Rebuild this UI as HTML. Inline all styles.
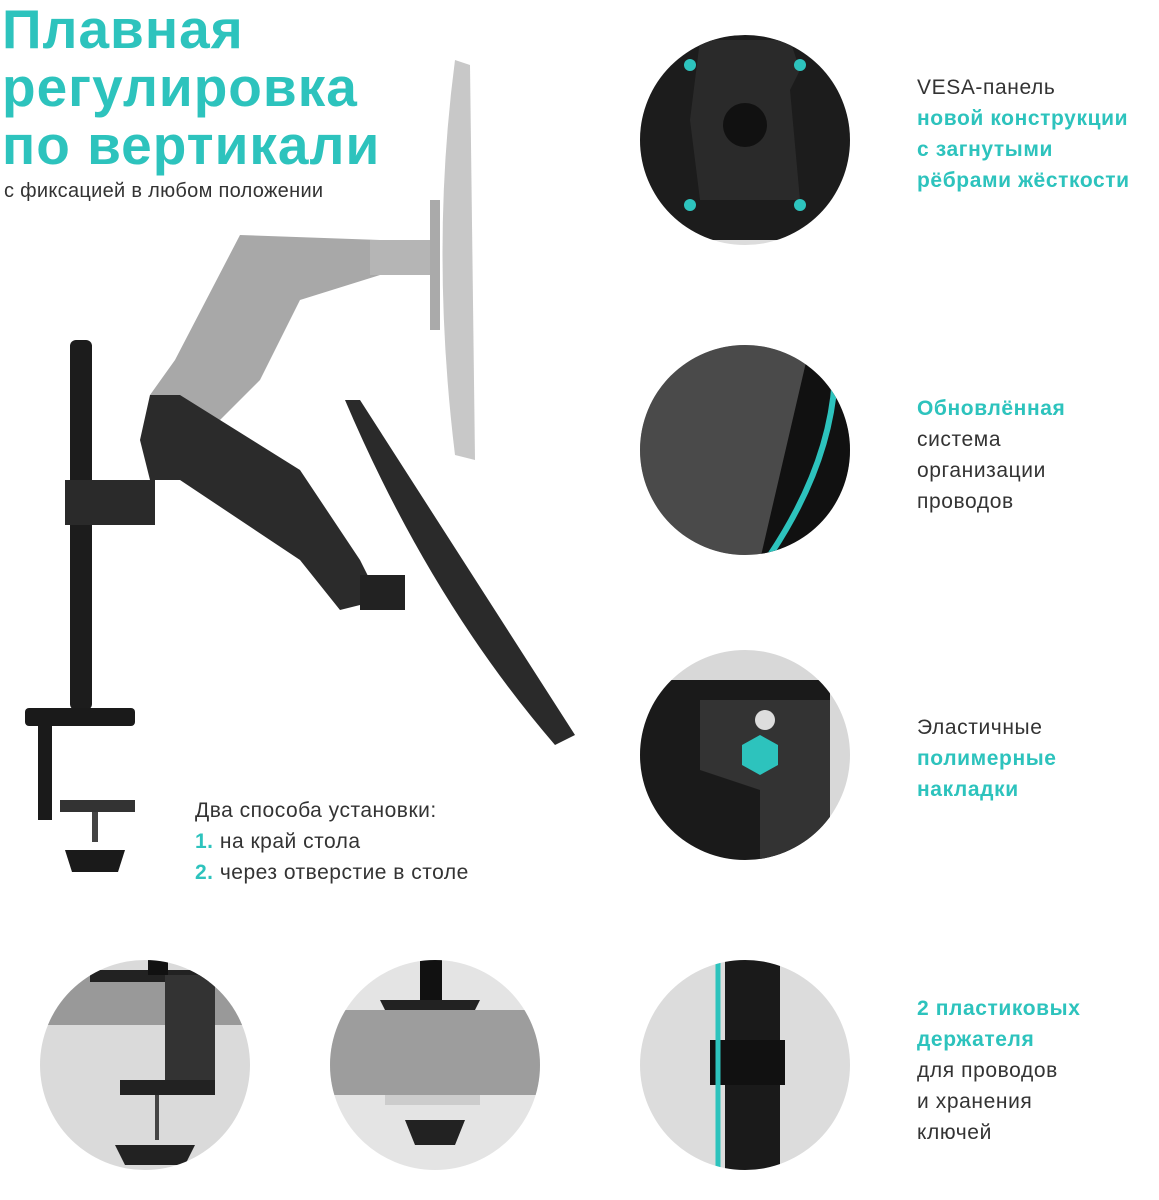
<!DOCTYPE html>
<html><head><meta charset="utf-8"><style>
body{margin:0;width:1159px;height:1200px;background:#fff;position:relative;overflow:hidden;font-family:"Liberation Sans",sans-serif}
.t{position:absolute;left:2px;color:#2dc3bd;font-weight:bold;font-size:55px;line-height:58px;letter-spacing:1px}
.s{position:absolute;left:4px;top:180px;font-size:20px;color:#333;letter-spacing:0.3px}
.r{position:absolute;left:917px;font-size:21px;line-height:31px;color:#333;letter-spacing:0.6px}
.c{color:#2dc3bd;font-weight:bold}
.i{position:absolute;left:195px;top:795px;font-size:21px;line-height:31px;color:#333;letter-spacing:0.5px}
svg{position:absolute;left:0;top:0}
</style></head><body>
<svg width="1159" height="1200">
<defs>
<clipPath id="c1"><circle cx="745" cy="140" r="105"/></clipPath>
<clipPath id="c2"><circle cx="745" cy="450" r="105"/></clipPath>
<clipPath id="c3"><circle cx="745" cy="755" r="105"/></clipPath>
<clipPath id="c4"><circle cx="745" cy="1065" r="105"/></clipPath>
<clipPath id="c5"><circle cx="145" cy="1065" r="105"/></clipPath>
<clipPath id="c6"><circle cx="435" cy="1065" r="105"/></clipPath>
</defs>
<circle cx="745" cy="140" r="105" fill="#dcdcdc"/>
<g clip-path="url(#c1)">
<path d="M640 40 L850 30 L850 240 L640 240Z" fill="#1c1c1c"/>
<path d="M700 40 L790 40 L800 70 L790 90 L800 200 L700 200 L690 120Z" fill="#2a2a2a"/>
<circle cx="745" cy="125" r="22" fill="#111"/>
<circle cx="690" cy="65" r="6" fill="#2dc3bd"/><circle cx="800" cy="65" r="6" fill="#2dc3bd"/>
<circle cx="690" cy="205" r="6" fill="#2dc3bd"/><circle cx="800" cy="205" r="6" fill="#2dc3bd"/>
</g>
<circle cx="745" cy="450" r="105" fill="#9a9a9a"/>
<g clip-path="url(#c2)">
<path d="M640 345 L810 345 L780 560 L640 560Z" fill="#4a4a4a"/>
<path d="M810 345 L860 345 L860 560 L760 560Z" fill="#111"/>
<path d="M835 350 Q840 450 770 555" stroke="#2dc3bd" stroke-width="6" fill="none"/>
</g>
<circle cx="745" cy="755" r="105" fill="#d8d8d8"/>
<g clip-path="url(#c3)">
<path d="M640 680 L830 680 L830 860 L640 860Z" fill="#1a1a1a"/>
<path d="M700 700 L830 700 L830 860 L760 860 L760 790 L700 770Z" fill="#333"/>
<circle cx="765" cy="720" r="10" fill="#ddd"/>
<path d="M760 735 L778 745 L778 765 L760 775 L742 765 L742 745Z" fill="#2dc3bd"/>
</g>
<circle cx="745" cy="1065" r="105" fill="#dcdcdc"/>
<g clip-path="url(#c4)">
<rect x="725" y="950" width="55" height="240" fill="#1a1a1a"/>
<rect x="710" y="1040" width="75" height="45" fill="#111"/>
<path d="M718 950 L718 1180" stroke="#2dc3bd" stroke-width="5"/>
</g>
<circle cx="145" cy="1065" r="105" fill="#dadada"/>
<g clip-path="url(#c5)">
<rect x="40" y="975" width="220" height="50" fill="#999"/>
<rect x="90" y="970" width="125" height="12" fill="#222"/>
<rect x="165" y="975" width="50" height="110" fill="#333"/>
<rect x="120" y="1080" width="95" height="15" fill="#222"/>
<rect x="148" y="940" width="20" height="35" fill="#111"/>
<rect x="155" y="1095" width="4" height="45" fill="#444"/>
<path d="M115 1145 L195 1145 L185 1165 L125 1165Z" fill="#222"/>
</g>
<circle cx="435" cy="1065" r="105" fill="#e4e4e4"/>
<g clip-path="url(#c6)">
<rect x="330" y="1010" width="220" height="85" fill="#9d9d9d"/>
<rect x="420" y="940" width="22" height="60" fill="#111"/>
<path d="M380 1000 L480 1000 L475 1010 L385 1010Z" fill="#222"/>
<rect x="385" y="1095" width="95" height="10" fill="#ccc"/>
<path d="M405 1120 L465 1120 L455 1145 L415 1145Z" fill="#222"/>
</g>
<path d="M150 395 L175 360 L240 235 L380 240 L380 275 L300 300 L260 380 L220 420 Z" fill="#a8a8a8"/>
<rect x="370" y="240" width="60" height="35" fill="#b5b5b5"/>
<path d="M455 60 L470 65 L475 460 L455 455 Q430 250 455 60Z" fill="#c8c8c8"/>
<path d="M430 200 L440 200 L440 330 L430 330Z" fill="#aaa"/>
<rect x="70" y="340" width="22" height="370" rx="6" fill="#1c1c1c"/>
<rect x="65" y="480" width="90" height="45" fill="#2a2a2a"/>
<path d="M140 440 L150 395 L180 395 L300 470 L360 560 L380 600 L340 610 L300 560 L180 480 L150 480Z" fill="#2b2b2b"/>
<rect x="360" y="575" width="45" height="35" fill="#222"/>
<path d="M345 400 L360 400 L575 735 L555 745 Q430 600 345 400Z" fill="#2a2a2a"/>
<rect x="25" y="708" width="110" height="18" rx="4" fill="#1a1a1a"/>
<rect x="38" y="720" width="14" height="100" fill="#1a1a1a"/>
<rect x="60" y="800" width="75" height="12" fill="#333"/>
<rect x="92" y="812" width="6" height="30" fill="#444"/>
<path d="M65 850 L125 850 L118 872 L72 872Z" fill="#1a1a1a"/>
</svg>
<div class="t" style="top:0">Плавная</div>
<div class="t" style="top:58px">регулировка</div>
<div class="t" style="top:116px">по вертикали</div>
<div class="s">с фиксацией в любом положении</div>
<div class="r" style="top:72px">VESA-панель<br><span class="c">новой конструкции<br>с загнутыми<br>рёбрами жёсткости</span></div>
<div class="r" style="top:393px"><span class="c">Обновлённая</span><br>система<br>организации<br>проводов</div>
<div class="r" style="top:712px">Эластичные<br><span class="c">полимерные<br>накладки</span></div>
<div class="r" style="top:993px"><span class="c">2 пластиковых<br>держателя</span><br>для проводов<br>и хранения<br>ключей</div>
<div class="i">Два способа установки:<br><span class="c">1.</span> на край стола<br><span class="c">2.</span> через отверстие в столе</div>
</body></html>
